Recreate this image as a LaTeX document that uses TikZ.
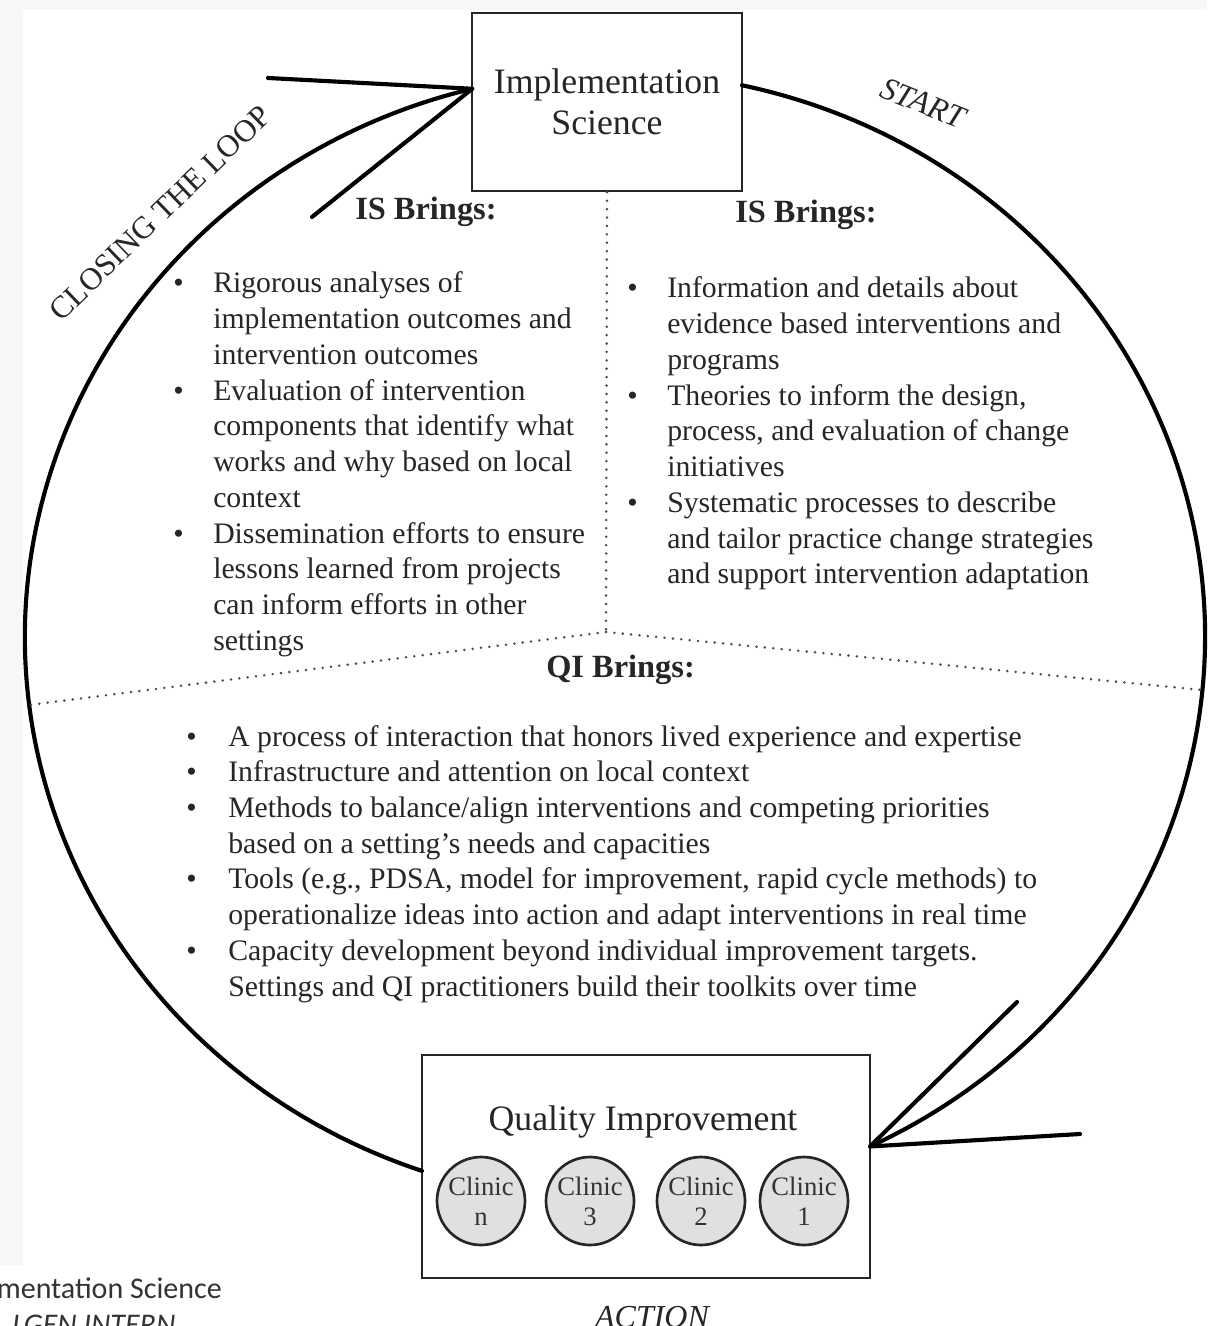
\documentclass[tikz,border=0pt]{standalone}
\usepackage{fontspec}
\setmainfont{Liberation Serif}
\newfontfamily\capfont{Carlito}
\usetikzlibrary{calc}

% bullet column of a list
\newcommand{\bul}[1]{\makebox[#1][l]{\textbullet}}

\begin{document}
\begin{tikzpicture}[x=0.75pt,y=-0.75pt,
  loopline/.style={line width=3.1pt, draw=black, line cap=round, line join=round},
  framebox/.style={draw=black!85, line width=2pt, fill=white, inner sep=0pt},
  divider/.style={draw=black!70, line width=2.1pt, line cap=round, dash pattern=on 0pt off 6.3pt},
  txt/.style={text=black!85, inner sep=0pt},
  body/.style={txt, font=\fontsize{22.3}{26.8}\selectfont},
  head/.style={txt, font=\fontsize{24.3}{28}\selectfont\bfseries},
  title/.style={txt, font=\fontsize{26.8}{30.8}\selectfont},
  clinic/.style={circle, draw=black!85, line width=2pt, fill=black!12, minimum size=66pt,
    inner sep=0pt, align=center, text=black!80, font=\fontsize{20}{22.5}\selectfont}]

% page area
\useasboundingbox (0,0) rectangle (1207,1326);
\fill[white] (0,0) rectangle (1207,1326);
\fill[black!3] (0,0) rectangle (1207,10);
\fill[black!3] (0,0) rectangle (23,1265);

% the two boxes
\node[framebox, title, minimum width=202.5pt, minimum height=133.5pt, align=center] (is) at (607,102) {Implementation\\Science};
\node[framebox, minimum width=336pt, minimum height=167.25pt] (qi) at (646,1166.5) {};
\node[title, anchor=base] (qit) at (643,1130) {Quality Improvement};
\node[clinic] (cn) at (481,1201) {Clinic\\n};
\node[clinic] (c3) at (590,1201) {Clinic\\3};
\node[clinic] (c2) at (701,1201) {Clinic\\2};
\node[clinic] (c1) at (804,1201) {Clinic\\1};

% the loop: centre of the ellipse and the points where it meets the boxes
\coordinate (O) at (615,637);
\coordinate (isR) at ($(O)+(-77.57:590 and 565)$);
\coordinate (qiR) at ($(O)+(64.39:590 and 565)$);
\coordinate (qiL) at ($(O)+(109.1:590 and 565)$);
\coordinate (isL) at ($(O)+(256:590 and 565)$);

\draw[loopline] (isR) arc[start angle=-77.57, end angle=64.39, x radius=590, y radius=565];
\draw[loopline] (qiL) arc[start angle=109.1, end angle=256, x radius=590, y radius=565];

% open arrow heads
\coordinate (tlA) at (268,78);
\coordinate (tlB) at (312,217);
\draw[loopline] (tlA) -- (isL) -- (tlB);
\coordinate (brA) at (1017,1002);
\coordinate (brB) at (1080,1134);
\draw[loopline] (brA) -- (qiR) -- (brB);

% labels along the loop
\node[txt, rotate=44, font=\fontsize{23.5}{26}\selectfont] (closing) at (160,213) {CLOSING THE LOOP};
\node[txt, rotate=-22, font=\fontsize{24}{28}\selectfont\itshape] (start) at (923,103) {START};
\node[txt, anchor=base, font=\fontsize{24}{28}\selectfont\itshape] (action) at (652,1327) {ACTION};

% dotted dividers
\coordinate (mid) at (606,632);
\coordinate (divL) at (29,705);
\coordinate (divR) at (1202,690);
\draw[divider] (is.south) -- (mid);
\draw[divider] (mid) -- (divL);
\draw[divider] (mid) -- (divR);

% headings
\node[head, anchor=base west] (hl) at (355,220) {IS Brings:};
\node[head, anchor=base west] (hr) at (735,223) {IS Brings:};
\node[head, anchor=base west] (hq) at (546,677) {QI Brings:};

% lists
\node[body, anchor=base west] (listl) at (173,293) {\begin{tabular}[t]{@{}l@{}l@{}}
\bul{30pt} & Rigorous analyses of\\
 & implementation outcomes and\\
 & intervention outcomes\\
\bul{30pt} & Evaluation of intervention\\
 & components that identify what\\
 & works and why based on local\\
 & context\\
\bul{30pt} & Dissemination efforts to ensure\\
 & lessons learned from projects\\
 & can inform efforts in other\\
 & settings
\end{tabular}};

\node[body, anchor=base west] (listr) at (627,298) {\begin{tabular}[t]{@{}l@{}l@{}}
\bul{30pt} & Information and details about\\
 & evidence based interventions and\\
 & programs\\
\bul{30pt} & Theories to inform the design,\\
 & process, and evaluation of change\\
 & initiatives\\
\bul{30pt} & Systematic processes to describe\\
 & and tailor practice change strategies\\
 & and support intervention adaptation
\end{tabular}};

\node[body, anchor=base west] (listq) at (186,746) {\begin{tabular}[t]{@{}l@{}l@{}}
\bul{31.5pt} & A process of interaction that honors lived experience and expertise\\
\bul{31.5pt} & Infrastructure and attention on local context\\
\bul{31.5pt} & Methods to balance/align interventions and competing priorities\\
 & based on a setting’s needs and capacities\\
\bul{31.5pt} & Tools (e.g., PDSA, model for improvement, rapid cycle methods) to\\
 & operationalize ideas into action and adapt interventions in real time\\
\bul{31.5pt} & Capacity development beyond individual improvement targets.\\
 & Settings and QI practitioners build their toolkits over time
\end{tabular}};

% caption remnant at the lower left
\node[txt, anchor=base east, text=black!80, font=\capfont\fontsize{22.5}{27}\selectfont] (cap1) at (222,1298) {mentation Science};
\node[txt, anchor=base west, text=black!80, font=\capfont\itshape\fontsize{22.5}{27}\selectfont] (cap2) at (12,1334) {LGEN INTERN};
\end{tikzpicture}
\end{document}
